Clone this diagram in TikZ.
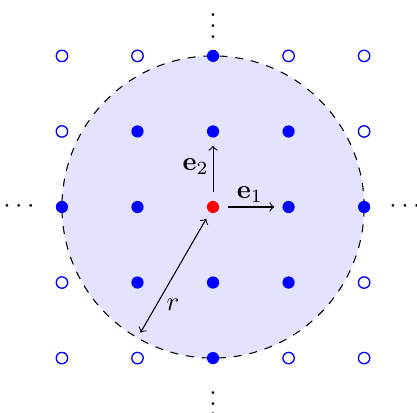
\documentclass[tikz,border=0pt]{standalone}
\usepackage{amsmath}
\begin{document}
\begin{tikzpicture}[x=1cm,y=1cm,
  fdot/.style={circle,fill=blue,inner sep=0pt,minimum size=4.6pt},
  hdot/.style={circle,draw=blue,fill=white,line width=0.5pt,inner sep=0pt,minimum size=4.3pt},
  cdot/.style={circle,fill=red,inner sep=0pt,minimum size=4.6pt},
  vec/.style={->,black,line width=0.4pt},
  veclabel/.style={inner sep=1.5pt},
  dotslabel/.style={inner sep=0pt}]
\useasboundingbox (-2.82,-2.72) rectangle (2.70,2.74);
\node[circle,draw=black,dashed,fill=blue!11,minimum size=4cm,inner sep=0pt] (C) at (0,0) {};
\foreach \i in {-2,...,2}{
  \foreach \j in {-2,...,2}{
    \pgfmathtruncatemacro{\d}{\i*\i+\j*\j}
    \ifnum\d=0
      \node[cdot] (p\i\j) at (\i,\j) {};
    \else\ifnum\d>4
      \node[hdot] (p\i\j) at (\i,\j) {};
    \else
      \node[fdot] (p\i\j) at (\i,\j) {};
    \fi\fi
  }
}
\coordinate (o) at (0,0);
\coordinate (e1s) at (0.2,0);
\coordinate (e1e) at (0.81,0);
\coordinate (e2s) at (0,0.2);
\coordinate (e2e) at (0,0.81);
\draw[vec] (e1s) -- node[above,veclabel,pos=0.47] (le1) {$\mathbf{e}_1$} (e1e);
\draw[vec] (e2s) -- node[left,veclabel,pos=0.55] (le2) {$\mathbf{e}_2$} (e2e);
\coordinate (r1) at (240:0.18);
\coordinate (r2) at (240:1.92);
\draw[<->,line width=0.4pt] (r1) -- (r2);
\node (lr) at (-0.53,-1.30) {$r$};
\node[dotslabel] (vt) at (0,2.5) {$\vdots$};
\node[dotslabel] (vb) at (0,-2.5) {$\vdots$};
\node[dotslabel] (hl) at (-2.54,0) {$\cdots$};
\node[dotslabel] (hr) at (2.57,0) {$\cdots$};
\end{tikzpicture}
\end{document}
